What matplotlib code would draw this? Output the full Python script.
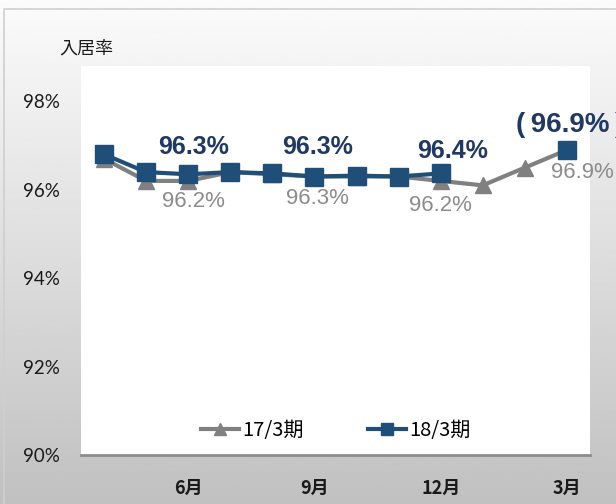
import numpy as np
import matplotlib
matplotlib.use("Agg")
import matplotlib.pyplot as plt
from matplotlib.patches import Rectangle
from matplotlib.lines import Line2D

# 4月..3月
months = np.arange(12)
tick_pos = [2, 5, 8, 11]
tick_labels = ["6月", "9月", "12月", "3月"]
y_ticks = [90, 92, 94, 96, 98]

rate17 = [96.7, 96.2, 96.2, 96.4, 96.35, 96.3, 96.3, 96.3, 96.2, 96.1, 96.5, 96.9]
rate18 = [96.8, 96.4, 96.35, 96.4, 96.37, 96.3, 96.32, 96.3, 96.37, np.nan, np.nan, 96.9]

# labels: (index, text, dx, dy) offsets in points
lab18 = [(2, "96.3%", 3.5, 19.5), (5, "96.3%", 2.5, 21.5), (8, "96.4%", 8.5, 16)]
lab17 = [(2, "96.2%", 3.5, -14.5), (5, "96.3%", 2, -15.5), (8, "96.2%", 0, -18), (11, "96.9%", 11.5, -16.5)]
fc_label = (11, "(\u200996.9%\u2009)", 2.5, 18)

GRAY = "#808080"
NAVY = "#1f4e79"
NAVY_TXT = "#1f3864"

plt.rcParams['font.family'] = ['Noto Sans CJK JP', 'DejaVu Sans']

fig = plt.figure(figsize=(6.16, 5.04), dpi=100)

# gradient background
bg = fig.add_axes([0, 0, 1, 1], zorder=0)
grad = np.linspace(0.985, 0.755, 256).reshape(-1, 1)
bg.imshow(grad, aspect="auto", cmap="gray", vmin=0, vmax=1, extent=[0, 1, 0, 1])
bg.set_xlim(0, 1)
bg.set_ylim(0, 1)
bg.axis("off")
bg.add_patch(Rectangle((4/616, -0.1), 1.2, (504-9)/504 + 0.1, fill=False,
                       edgecolor="#cfcfcf", linewidth=1.2))

ax = fig.add_axes([81/616, 49/504, 509/616, 389/504], zorder=1)
ax.set_facecolor("white")

ax.plot(months, rate17, color=GRAY, linewidth=3, marker="^", markersize=12,
        markeredgecolor=GRAY, label="17/3期", zorder=3)
ax.plot(months, rate18, color=NAVY, linewidth=3, marker="s", markersize=13.5,
        markeredgecolor=NAVY, label="18/3期", zorder=4)

for i, t, dx, dy in lab18:
    ax.annotate(t, (i, rate18[i]), xytext=(dx, dy), textcoords="offset points",
                ha="center", va="center", fontsize=18, fontweight="bold",
                color=NAVY_TXT, family=["Liberation Sans", "DejaVu Sans"], zorder=5)
for i, t, dx, dy in lab17:
    ax.annotate(t, (i, rate17[i]), xytext=(dx, dy), textcoords="offset points",
                ha="center", va="center", fontsize=16,
                color="#8c8c8c", family=["Liberation Sans", "DejaVu Sans"], zorder=5)
i, t, dx, dy = fc_label
ax.annotate(t, (i, rate18[i]), xytext=(dx, dy), textcoords="offset points",
            ha="center", va="center", fontsize=20, fontweight="bold",
            color=NAVY_TXT, family=["Liberation Sans", "DejaVu Sans"], zorder=5)

ax.set_xlim(-0.55, 11.55)
ax.set_ylim(90, 98.8)
ax.set_yticks(y_ticks)
ax.set_yticklabels([f"{v}%" for v in y_ticks], fontsize=13.5, family=["Lato", "DejaVu Sans"],
                   color="#1a1a1a")
ax.set_xticks(tick_pos)
ax.set_xticklabels(tick_labels, fontsize=13, fontweight="bold", color="#1a1a1a")
ax.tick_params(axis="y", length=0, pad=15)
ax.tick_params(axis="x", length=0, pad=17)
for s in ["top", "right", "left"]:
    ax.spines[s].set_visible(False)
ax.spines["bottom"].set_color("#8c8c8c")
ax.spines["bottom"].set_linewidth(2)

handles = [Line2D([], [], color=GRAY, linewidth=3, marker="^", markersize=8),
           Line2D([], [], color=NAVY, linewidth=3, marker="s", markersize=9)]
ax.legend(handles, ["17/3期", "18/3期"], loc="center", bbox_to_anchor=(0.5, 0.062),
          ncol=2, frameon=False, fontsize=14.5, handlelength=1.9, handletextpad=0.15,
          columnspacing=3.2)

fig.text(59/616, 1 - 49/504, "入居率", fontsize=13, ha="left", va="center", color="#1a1a1a")

fig.savefig("out.png", dpi=100)
